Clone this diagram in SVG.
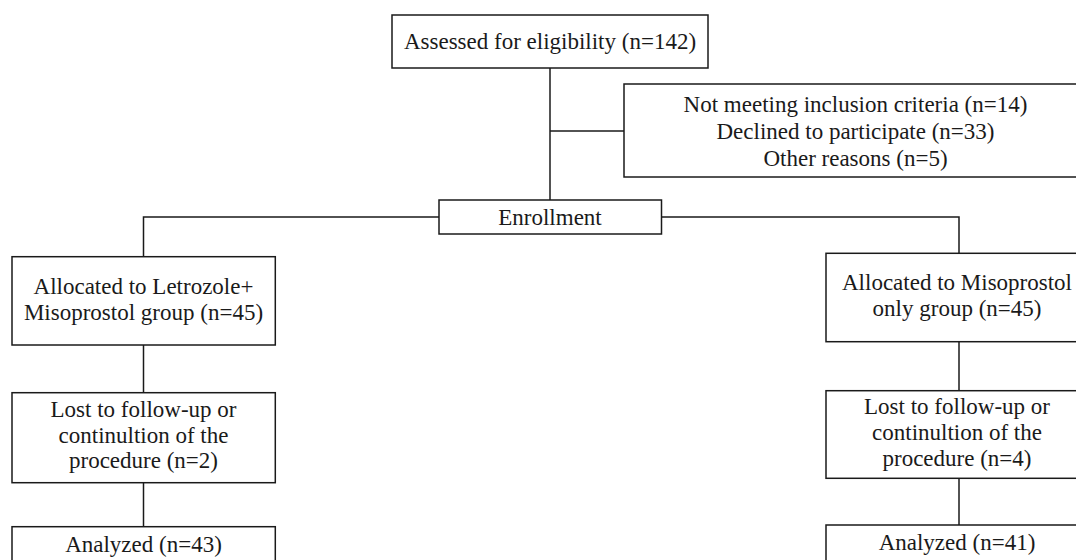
<svg xmlns="http://www.w3.org/2000/svg" width="1076" height="560" viewBox="0 0 1076 560">
<style>
.box{fill:#fff;stroke:#1a1a1a;stroke-width:1.5}
.ln{fill:none;stroke:#1a1a1a;stroke-width:1.5}
text{font-family:"Liberation Serif","Times New Roman",serif;font-size:23px;fill:#1a1a1a;text-anchor:middle}
</style>
<rect width="1076" height="560" fill="#fff"/>
<g id="connectors">
<path class="ln" d="M550 68V200"/>
<path class="ln" d="M550 131H624"/>
<path class="ln" d="M439 217H143.5V256.7"/>
<path class="ln" d="M661.5 217H959V253.3"/>
<path class="ln" d="M143.5 345V392.7"/>
<path class="ln" d="M143.5 482.7V526.7"/>
<path class="ln" d="M959 341.7V390.7"/>
<path class="ln" d="M959 478.3V525"/>
</g>
<g id="assessed">
<rect class="box" x="392" y="15" width="316" height="53"/>
<text x="550" y="48.5">Assessed for eligibility (n=142)</text>
</g>
<g id="excluded">
<rect class="box" x="624" y="84" width="464" height="93"/>
<text x="855.5" y="112">Not meeting inclusion criteria (n=14)</text>
<text x="855.5" y="139">Declined to participate (n=33)</text>
<text x="855.5" y="166">Other reasons (n=5)</text>
</g>
<g id="enrollment">
<rect class="box" x="439" y="200" width="222.5" height="34"/>
<text x="550" y="225">Enrollment</text>
</g>
<g id="alloc-left">
<rect class="box" x="12" y="256.7" width="263.3" height="88.3"/>
<text x="143.5" y="294">Allocated to Letrozole+</text>
<text x="143.5" y="320">Misoprostol group (n=45)</text>
</g>
<g id="lost-left">
<rect class="box" x="12" y="392.7" width="263.3" height="90"/>
<text x="143.5" y="417">Lost to follow-up or</text>
<text x="143.5" y="443">continultion of the</text>
<text x="143.5" y="468">procedure (n=2)</text>
</g>
<g id="analyzed-left">
<rect class="box" x="12" y="526.7" width="263.3" height="60"/>
<text x="143.5" y="552">Analyzed (n=43)</text>
</g>
<g id="alloc-right">
<rect class="box" x="826" y="253.3" width="262" height="88.4"/>
<text x="957" y="290">Allocated to Misoprostol</text>
<text x="957" y="316">only group (n=45)</text>
</g>
<g id="lost-right">
<rect class="box" x="826" y="390.7" width="262" height="87.6"/>
<text x="957" y="414">Lost to follow-up or</text>
<text x="957" y="440">continultion of the</text>
<text x="957" y="466">procedure (n=4)</text>
</g>
<g id="analyzed-right">
<rect class="box" x="826" y="525" width="262" height="60"/>
<text x="957" y="550">Analyzed (n=41)</text>
</g>
</svg>
